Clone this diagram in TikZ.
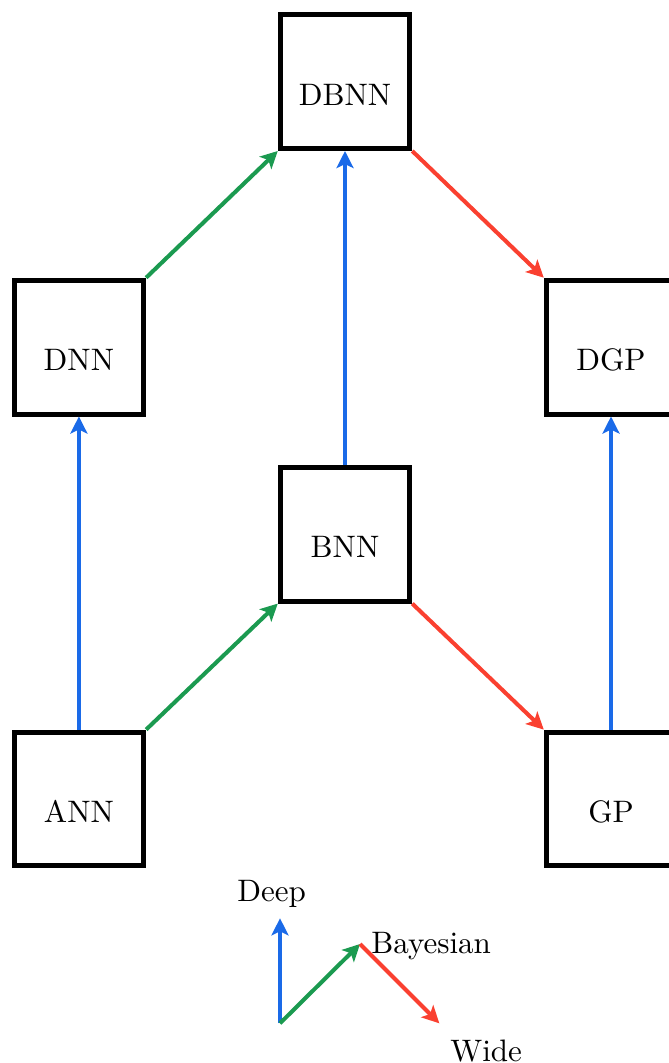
\documentclass[tikz,border=0pt]{standalone}
\usetikzlibrary{arrows.meta}
\definecolor{deepblue}{RGB}{26,106,232}
\definecolor{bayesgreen}{RGB}{27,154,80}
\definecolor{widered}{RGB}{250,64,48}
\tikzset{
  model/.style={draw, line width=1.6pt, minimum width=41.7pt, minimum height=43.1pt,
    text height=15.2pt, text depth=0pt, inner sep=2pt, fill=white},
  link/.style={line width=1.3pt, -{Stealth[length=5.5pt,width=5.5pt,inset=1.3pt]}},
  deep/.style={link, deepblue},
  bayes/.style={link, bayesgreen},
  wide/.style={link, widered},
  legtext/.style={inner sep=0pt}
}
\begin{document}
\begin{tikzpicture}[x=0.322pt, y=-0.322pt]
\useasboundingbox (0,0) rectangle (668,1063);
\node[model] (ANN)  at (78.9,799)  {ANN};
\node[model] (BNN)  at (345,534.2) {BNN};
\node[model] (GP)   at (611,799)   {GP};
\node[model] (DNN)  at (78.9,347.1) {DNN};
\node[model] (DBNN) at (345,81.6)  {DBNN};
\node[model] (DGP)  at (611,347.1) {DGP};

\draw[deep]  (ANN.north) -- (DNN.south);
\draw[bayes] (ANN.north east) -- (BNN.south west);
\draw[wide]  (BNN.south east) -- (GP.north west);
\draw[deep]  (GP.north) -- (DGP.south);
\draw[deep]  (BNN.north) -- (DBNN.south);
\draw[bayes] (DNN.north east) -- (DBNN.south west);
\draw[wide]  (DBNN.south east) -- (DGP.north west);

% legend
\coordinate (O) at (280,1023.3);
\coordinate (Dtip) at (280,918.3);
\coordinate (Btip) at (360,944);
\coordinate (Wtip) at (439.3,1023.3);
\draw[deep]  (O) -- (Dtip);
\draw[bayes] (O) -- (Btip);
\draw[wide]  (Btip) -- (Wtip);
\node[legtext, anchor=base] (deeplbl) at (271.7,901.7) {Deep};
\node[legtext, anchor=base west] (bayeslbl) at (370.7,953.3) {Bayesian};
\node[legtext, anchor=base west] (widelbl) at (449.7,1061.7) {Wide};
\end{tikzpicture}
\end{document}
